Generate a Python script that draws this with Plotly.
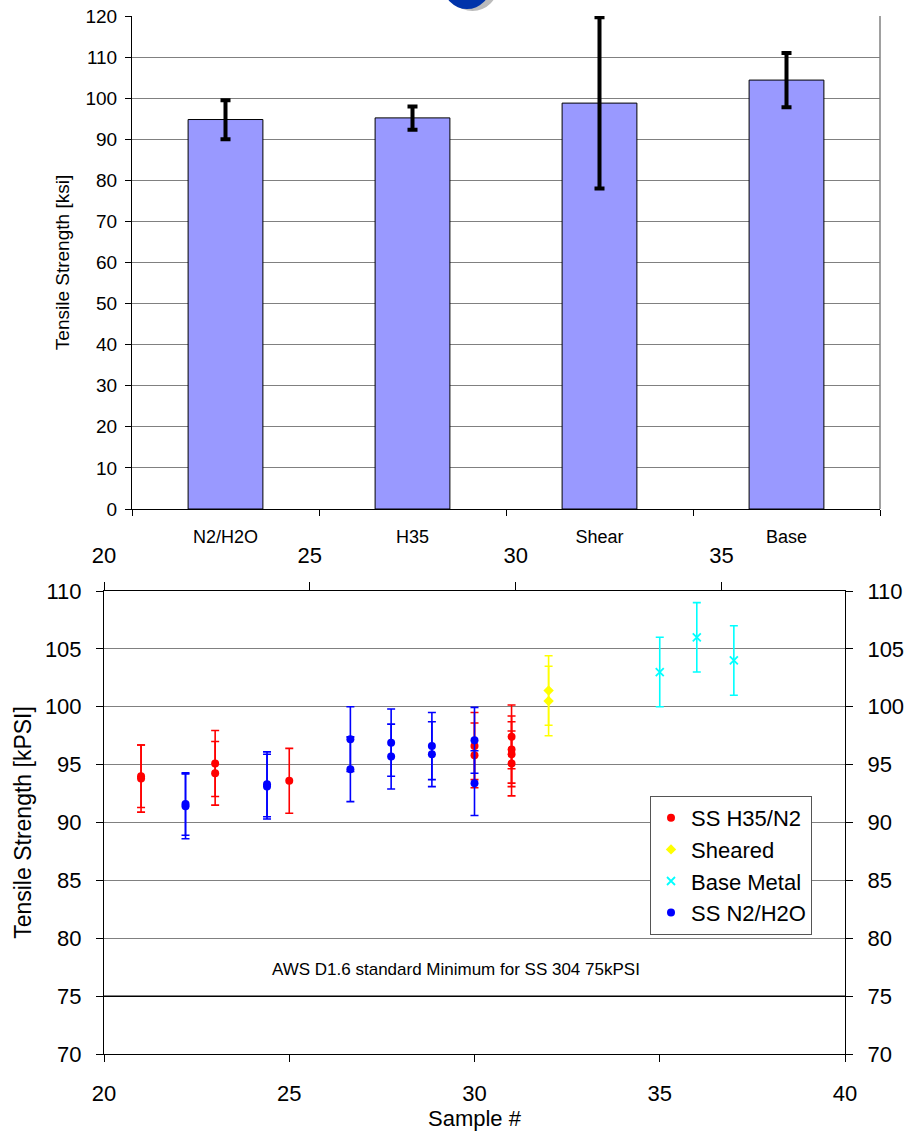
import plotly.graph_objects as go

# ---------- Top chart data ----------
categories = ["N2/H2O", "H35", "Shear", "Base"]
mean_ksi = [94.8, 95.2, 98.8, 104.4]
err_plus = [4.7, 2.8, 20.9, 6.6]
err_minus = [4.8, 2.9, 20.8, 6.6]

# ---------- Bottom chart data ----------
h35_x = [21, 21, 23, 23, 25, 30, 30, 31, 31, 31, 31]
h35_y = [94.0, 93.8, 95.1, 94.25, 93.6, 96.6, 95.8, 97.4, 96.3, 95.9, 95.1]
h35_err = [2.7, 2.9, 2.85, 2.75, 2.8, 2.9, 2.8, 2.75, 2.9, 2.8, 2.8]

sheared_x = [32, 32]
sheared_y = [101.4, 100.5]
sheared_err = [3.0, 3.0]

base_x = [35, 36, 37]
base_y = [103.0, 106.0, 104.0]
base_err = [3.0, 3.0, 3.0]

n2_x = [22.2, 22.2, 24.4, 24.4, 26.65, 26.65, 27.75, 27.75, 28.85, 28.85, 30, 30]
n2_y = [91.4, 91.6, 93.3, 93.1, 97.2, 94.6, 96.9, 95.7, 96.6, 95.9, 97.1, 93.4]
n2_err = [2.8, 2.7, 2.8, 2.8, 2.8, 2.8, 2.9, 2.8, 2.9, 2.8, 2.85, 2.8]

STANDARD_MIN = 75
bottom_x_range = [20, 40]
top_x_range = [20, 38]
bottom_y_range = [70, 110]

W, H = 914, 1131
def fx(px): return px / W
def fy(py): return 1 - py / H

FONT = "Liberation Sans, Arial, sans-serif"

fig = go.Figure()

fig.add_trace(go.Bar(
    x=categories, y=mean_ksi, width=0.4,
    marker=dict(color="#9999FF", line=dict(color="#000000", width=1)),
    error_y=dict(type="data", symmetric=False, array=err_plus, arrayminus=err_minus,
                 color="black", thickness=4, width=5),
    xaxis="x", yaxis="y", showlegend=False,
))

series = [
    ("SS H35/N2", h35_x, h35_y, h35_err, "#FF0000", "circle", 8),
    ("Sheared", sheared_x, sheared_y, sheared_err, "#FFFF00", "diamond", 8),
    ("Base Metal", base_x, base_y, base_err, "#00FFFF", "x-thin", 8),
    ("SS N2/H2O", n2_x, n2_y, n2_err, "#0000FF", "circle", 8),
]
for name, xs, ys, es, col, sym, sz in series:
    marker = dict(color=col, symbol=sym, size=sz)
    if sym == "x-thin":
        marker["line"] = dict(color=col, width=1.8)
    fig.add_trace(go.Scatter(
        x=xs, y=ys, mode="markers", name=name, marker=marker,
        error_y=dict(type="data", array=es, color=col, thickness=1.6, width=4),
        xaxis="x2", yaxis="y2",
    ))

# empty traces so the secondary (top / right) axes get drawn
fig.add_trace(go.Scatter(x=[], y=[], xaxis="x3", yaxis="y2", showlegend=False, hoverinfo="skip"))
fig.add_trace(go.Scatter(x=[], y=[], xaxis="x2", yaxis="y3", showlegend=False, hoverinfo="skip"))

grid_col = "#808080"
tick_font_top = dict(family=FONT, size=19, color="black")
tick_font_bot = dict(family=FONT, size=22, color="black")

fig.update_layout(
    width=W, height=H,
    margin=dict(l=0, r=0, t=0, b=0),
    paper_bgcolor="white", plot_bgcolor="white",
    font=dict(family=FONT, color="black"),
    xaxis=dict(
        domain=[fx(132), fx(880)], anchor="y",
        showline=True, linecolor="black", linewidth=1,
        ticks="outside", ticklen=6, tickcolor="black", tickson="boundaries",
        showgrid=False, tickfont=dict(family=FONT, size=18, color="black"),
        ticklabelstandoff=11, automargin=False,
    ),
    yaxis=dict(
        domain=[fy(509), fy(16)], anchor="x", range=[0, 120], dtick=10,
        showline=True, linecolor="black", linewidth=1,
        ticks="outside", ticklen=6, tickcolor="black",
        showgrid=True, gridcolor=grid_col, gridwidth=1, zeroline=False,
        tickfont=tick_font_top, ticklabelstandoff=4,
        title=dict(text="Tensile Strength [ksi]", font=dict(family=FONT, size=19), standoff=10),
        automargin=False,
    ),
    xaxis2=dict(
        domain=[fx(104), fx(845)], anchor="y2", range=bottom_x_range, dtick=5, tick0=20,
        showline=True, linecolor="black", linewidth=1,
        ticks="outside", ticklen=7, tickcolor="black", showgrid=False, zeroline=False,
        tickfont=tick_font_bot, ticklabelstandoff=13,
        title=dict(text="Sample #", font=dict(family=FONT, size=22), standoff=2),
        automargin=False,
    ),
    yaxis2=dict(
        domain=[fy(1054), fy(591)], anchor="x2", range=bottom_y_range, dtick=5,
        showline=True, linecolor="black", linewidth=1,
        ticks="outside", ticklen=7, tickcolor="black",
        showgrid=True, gridcolor=grid_col, gridwidth=1, zeroline=False,
        tickfont=tick_font_bot, ticklabelstandoff=10,
        title=dict(text="Tensile Strength [kPSI]", font=dict(family=FONT, size=23), standoff=6),
        automargin=False,
    ),
    xaxis3=dict(
        overlaying="x2", anchor="y2", side="top", range=top_x_range, dtick=5, tick0=20,
        showline=True, linecolor="black", linewidth=1,
        ticks="outside", ticklen=8, tickcolor="black", showgrid=False, zeroline=False,
        tickfont=tick_font_bot, ticklabelstandoff=10, automargin=False,
    ),
    yaxis3=dict(
        overlaying="y2", anchor="x2", side="right", range=bottom_y_range, dtick=5,
        showline=True, linecolor="black", linewidth=1,
        ticks="outside", ticklen=7, tickcolor="black", showgrid=False, zeroline=False,
        tickfont=tick_font_bot, ticklabelstandoff=10, automargin=False,
    ),
    legend=dict(
        x=fx(650), y=fy(796), xanchor="left", yanchor="top",
        bgcolor="white", bordercolor="#555555", borderwidth=1,
        font=dict(family=FONT, size=22, color="black"),
        itemsizing="trace", itemwidth=30, tracegroupgap=0,
    ),
    showlegend=True,
)

# top chart right border
fig.add_shape(type="line", xref="x domain", yref="y domain", x0=1, x1=1, y0=0, y1=1,
              line=dict(color=grid_col, width=1.5))
# AWS standard minimum line
fig.add_shape(type="line", xref="x2 domain", yref="y2", x0=0, x1=1,
              y0=STANDARD_MIN, y1=STANDARD_MIN, line=dict(color="black", width=1.5))
fig.add_annotation(text="AWS D1.6 standard Minimum for SS 304 75kPSI",
                   xref="x2", yref="y2", x=29.5, y=77.3, showarrow=False,
                   font=dict(family=FONT, size=17, color="black"))

# partial logo at the top edge
fig.add_shape(type="circle", xref="paper", yref="paper",
              x0=fx(447), x1=fx(498), y0=fy(11), y1=fy(-40),
              fillcolor="#BBBBBB", line=dict(width=0), layer="below")
fig.add_shape(type="circle", xref="paper", yref="paper",
              x0=fx(443), x1=fx(491), y0=fy(9), y1=fy(-40),
              fillcolor="#0033AA", line=dict(width=0), layer="below")

fig.write_html("out.html", config={"displayModeBar": False},
               post_script="document.body.style.margin='0';document.body.style.overflow='hidden';")
